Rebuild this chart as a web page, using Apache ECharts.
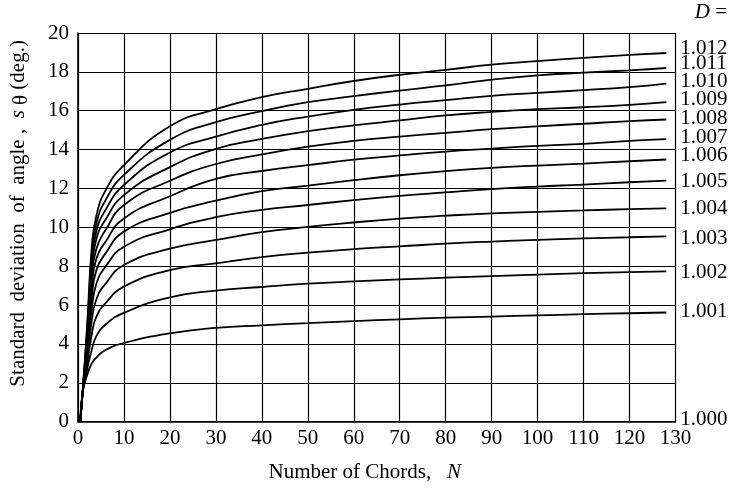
<!DOCTYPE html>
<html>
<head>
<meta charset="utf-8">
<script src="https://cdn.jsdelivr.net/npm/echarts@6/dist/echarts.min.js"></script>
<style>
  html, body { margin: 0; padding: 0; background: #fff; }
  #chart { width: 731px; height: 489px; }
</style>
</head>
<body>
<div id="chart"></div>
<script>
// number of chords N (x positions of the read points)
var nValues = [0.5, 1, 2, 3, 4, 6, 10, 20, 30, 40, 50, 60, 70, 80, 90, 100, 110, 120, 128];

// s_theta (deg.), one array per D
var d1012 = [0, 1.5, 5.0, 9.0, 10.6, 11.9, 13.2, 15.2, 16.08, 16.7, 17.13, 17.53, 17.85, 18.1, 18.37, 18.55, 18.72, 18.87, 18.97];
var d1011 = [0, 1.5, 4.8, 8.6, 10.2, 11.4, 12.7, 14.5, 15.41, 15.98, 16.44, 16.75, 17.04, 17.3, 17.6, 17.82, 17.96, 18.08, 18.2];
var d1010 = [0, 1.5, 4.6, 8.2, 9.8, 10.9, 12.18, 13.85, 14.67, 15.27, 15.7, 16.05, 16.32, 16.55, 16.77, 16.92, 17.06, 17.22, 17.4];
var d1009 = [0, 1.5, 4.4, 7.8, 9.4, 10.4, 11.66, 13.1, 14.04, 14.55, 14.95, 15.25, 15.5, 15.76, 15.94, 16.08, 16.18, 16.3, 16.44];
var d1008 = [0, 1.5, 4.2, 7.4, 8.9, 9.86, 11.15, 12.4, 13.26, 13.75, 14.15, 14.45, 14.67, 14.86, 15.05, 15.2, 15.33, 15.47, 15.55];
var d1007 = [0, 1.5, 4.0, 6.9, 8.4, 9.26, 10.46, 11.6, 12.49, 12.9, 13.2, 13.48, 13.7, 13.9, 14.05, 14.19, 14.3, 14.45, 14.54];
var d1006 = [0, 1.5, 3.8, 6.4, 7.8, 8.66, 9.78, 10.75, 11.37, 11.86, 12.15, 12.43, 12.68, 12.89, 13.06, 13.18, 13.28, 13.4, 13.49];
var d1005 = [0, 1.5, 3.6, 5.8, 7.1, 7.98, 9.0, 9.9, 10.52, 10.9, 11.15, 11.4, 11.62, 11.8, 11.97, 12.1, 12.2, 12.32, 12.4];
var d1004 = [0, 1.5, 3.3, 5.2, 6.3, 7.1, 8.06, 8.9, 9.35, 9.75, 10.02, 10.25, 10.45, 10.6, 10.72, 10.8, 10.87, 10.94, 10.98];
var d1003 = [0, 1.5, 3.0, 4.5, 5.4, 6.1, 6.95, 7.8, 8.15, 8.47, 8.7, 8.88, 9.02, 9.16, 9.27, 9.36, 9.43, 9.49, 9.54];
var d1002 = [0, 1.5, 2.7, 3.7, 4.4, 5.0, 5.6, 6.4, 6.74, 6.93, 7.1, 7.22, 7.32, 7.41, 7.49, 7.57, 7.64, 7.7, 7.73];
var d1001 = [0, 1.5, 2.4, 3.0, 3.3, 3.69, 4.05, 4.55, 4.83, 4.96, 5.07, 5.18, 5.27, 5.35, 5.41, 5.47, 5.53, 5.58, 5.62];
var d1000 = [0, 0, 0, 0, 0, 0, 0, 0, 0, 0, 0, 0, 0, 0, 0, 0, 0, 0, 0];

var curveNames = ['1.012', '1.011', '1.010', '1.009', '1.008', '1.007', '1.006', '1.005', '1.004', '1.003', '1.002', '1.001', '1.000'];
var curveData = [d1012, d1011, d1010, d1009, d1008, d1007, d1006, d1005, d1004, d1003, d1002, d1001, d1000];
// small nudges so the right-hand labels sit like the printed ones
var labelShift = [-5, -4, -2, -3, -1, -2, -4, 1, 0, 2, 1, -1, -2];

var serif = 'Liberation Serif';

var chart = echarts.init(document.getElementById('chart'));

var series = curveNames.map(function (name, i) {
  return {
    name: name,
    type: 'line',
    data: nValues.map(function (n, k) { return [n, curveData[i][k]]; }),
    showSymbol: false,
    smooth: 0.5,
    silent: true,
    lineStyle: { color: '#000', width: i == 12 ? 0 : 1.8 },
    endLabel: {
      show: true,
      formatter: name,
      distance: 14,
      offset: [0, labelShift[i]],
      color: '#000',
      fontFamily: serif,
      fontSize: 21
    }
  };
});

var option = {
  animation: false,
  backgroundColor: '#fff',
  grid: { left: 71.5, right: 55.5, top: 33, bottom: 67.3 },
  xAxis: {
    type: 'value',
    min: 0,
    max: 130,
    interval: 10,
    name: 'Number of Chords,   {i|N}',
    nameLocation: 'middle',
    nameGap: 40,
    nameTextStyle: {
      color: '#000', fontFamily: serif, fontSize: 21,
      padding: [0, 24, 0, 0],
      rich: { i: { fontStyle: 'italic', fontFamily: serif, fontSize: 21, color: '#000' } }
    },
    axisLine: { lineStyle: { color: '#000', width: 1.6 } },
    axisTick: { show: false },
    axisLabel: { color: '#000', fontFamily: serif, fontSize: 21, margin: 6 },
    splitLine: { show: true, lineStyle: { color: '#000', width: 1.2 } }
  },
  yAxis: {
    type: 'value',
    min: 0,
    max: 20,
    interval: 2,
    name: 'Standard  deviation  of  angle ,  {i|s} {sub|θ} (deg.)',
    nameLocation: 'middle',
    nameRotate: 90,
    nameGap: 46,
    nameTextStyle: {
      color: '#000', fontFamily: serif, fontSize: 21,
      padding: [0, 0, 0, 28],
      rich: {
        i: { fontStyle: 'italic', fontFamily: serif, fontSize: 21, color: '#000' },
        sub: { fontFamily: serif, fontSize: 21, color: '#000', padding: [6, 0, 0, 0] }
      }
    },
    axisLine: { show: true, lineStyle: { color: '#000', width: 1.6 } },
    axisTick: { show: false },
    axisLabel: { color: '#000', fontFamily: serif, fontSize: 21, margin: 9 },
    splitLine: { show: true, lineStyle: { color: '#000', width: 1.2 } }
  },
  graphic: [{
    type: 'text',
    right: 4,
    top: 2,
    style: {
      text: '{i|D} =',
      fill: '#000',
      font: '21px "Liberation Serif"',
      rich: { i: { fontStyle: 'italic', fontFamily: serif, fontSize: 21, fill: '#000' } }
    }
  }],
  series: series
};

chart.setOption(option);
</script>
</body>
</html>
